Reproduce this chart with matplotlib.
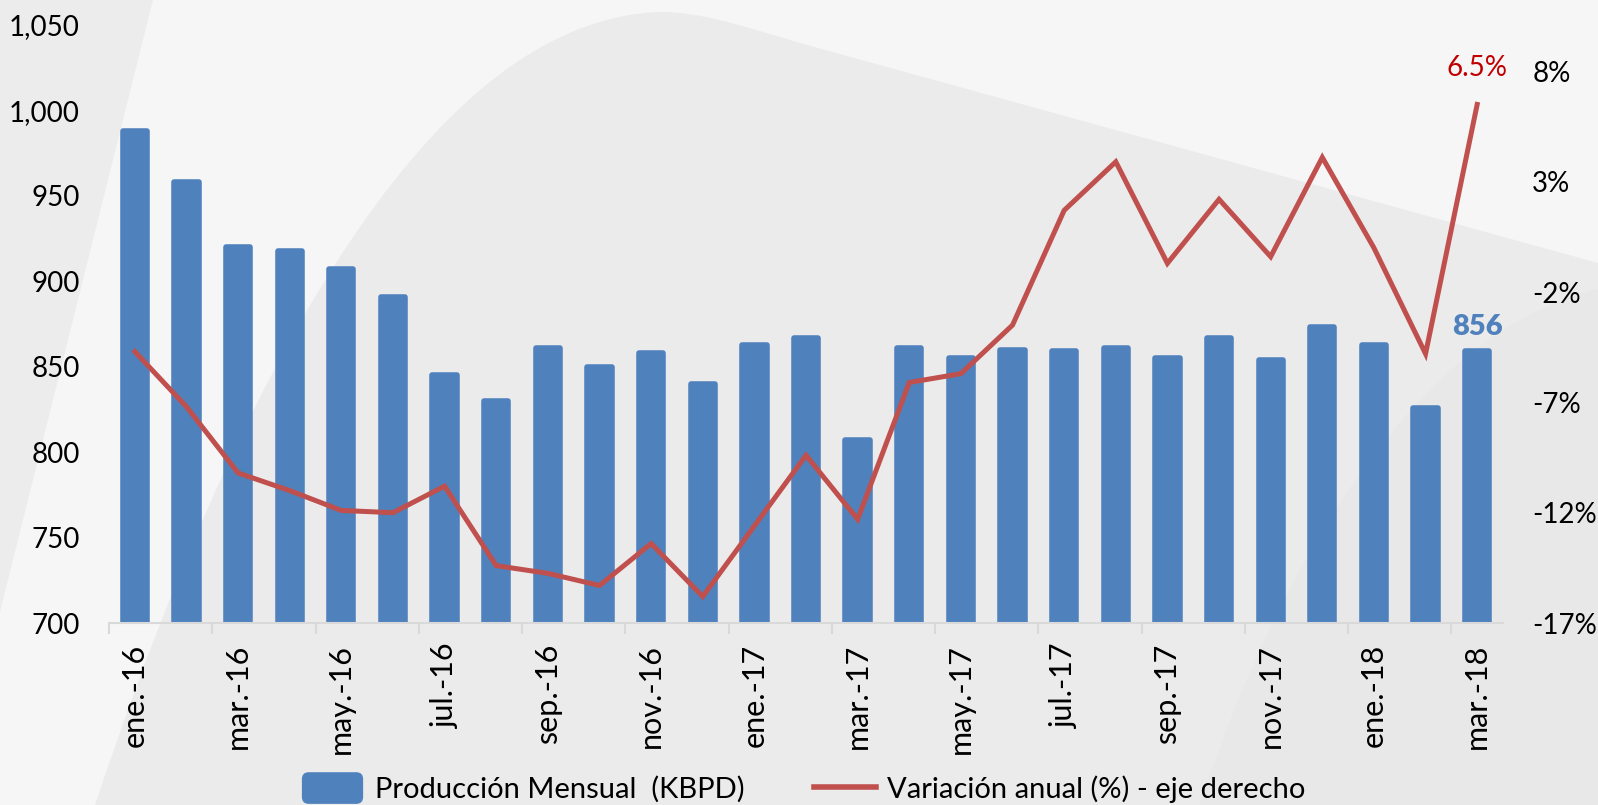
import matplotlib
matplotlib.use("Agg")
import matplotlib.pyplot as plt
from matplotlib.patches import Polygon, PathPatch, FancyBboxPatch, Patch
from matplotlib.path import Path
from matplotlib.lines import Line2D
from matplotlib.legend_handler import HandlerPatch

plt.rcParams["font.family"] = ["Lato", "DejaVu Sans"]

# ---- data ----
months = ["ene.", "feb.", "mar.", "abr.", "may.", "jun.", "jul.", "ago.",
          "sep.", "oct.", "nov.", "dic."]
labels = [f"{months[i % 12]}-{16 + i // 12}" for i in range(27)]
prod = [988, 958, 920, 918, 907, 891, 845, 830, 861, 850, 858, 840, 863, 867,
        807, 861, 855, 860, 859, 861, 855, 867, 854, 873, 863, 826, 859]
var = [-4.7, -7.2, -10.2, -11.0, -11.9, -12.0, -10.8, -14.4, -14.75, -15.3,
       -13.4, -15.8, -12.6, -9.4, -12.3, -6.1, -5.7, -3.5, 1.7, 3.9, -0.7,
       2.2, -0.4, 4.1, 0.0, -4.8, 6.5]
last_prod_label = "856"
left_ticks = [700, 750, 800, 850, 900, 950, 1000, 1050]
right_ticks = [-17, -12, -7, -2, 3, 8]

BLUE = "#4f81bd"
RED = "#c0504d"
W, H = 1598, 805


class RoundPatch(HandlerPatch):
    def create_artists(self, legend, orig, xd, yd, width, height, fontsize, trans):
        p = FancyBboxPatch((-xd, -yd - 2), width, height + 4,
                           boxstyle="round,pad=0,rounding_size=5",
                           fc=orig.get_facecolor(), ec="none", transform=trans)
        return [p]


fig = plt.figure(figsize=(W / 100, H / 100), dpi=100, facecolor="#f6f6f6")

# decorative background shapes (pixel coords)
bg = fig.add_axes([0, 0, 1, 1], zorder=-5)
bg.set_xlim(0, W); bg.set_ylim(H, 0); bg.axis("off")
bg.add_patch(Polygon([(0, 0), (153, 0), (0, 612)], closed=True, fc="#ececec", ec="none"))
M, C4, L, CL = Path.MOVETO, Path.CURVE4, Path.LINETO, Path.CLOSEPOLY
big = Path([(95, 805), (230, 400), (420, 20), (660, 12),
            (700, 12), (740, 25), (800, 43),
            (1598, 263), (1598, 805), (95, 805)],
           [M, C4, C4, C4, C4, C4, C4, L, L, CL])
bg.add_patch(PathPatch(big, fc="#ebebeb", ec="none"))
corner = Path([(1200, 805), (1280, 560), (1420, 330), (1598, 289),
               (1598, 805), (1200, 805)],
              [M, C4, C4, C4, L, CL])
bg.add_patch(PathPatch(corner, fc="#e8e8e8", ec="none"))

ax = fig.add_axes([109 / W, 1 - 623 / H, 1394 / W, 598 / H])
ax.patch.set_visible(False)
x = list(range(len(prod)))
ax.bar(x, prod, width=0.47, color=BLUE, edgecolor=BLUE, linewidth=4,
       joinstyle="round", zorder=2)
ax.set_xlim(-0.5, len(prod) - 0.5)
ax.set_ylim(700, 1050)
ax.set_yticks(left_ticks)
ax.set_yticklabels([f"{v:,}" for v in left_ticks])
ax.tick_params(axis="y", length=0, pad=21, labelsize=20)
ax.set_xticks(x[::2])
ax.set_xticklabels(labels[::2], rotation=90, fontsize=22)
ax.set_xticks([i - 0.5 for i in range(0, len(prod) + 1, 2)], minor=True)
ax.tick_params(axis="x", which="major", length=0, pad=15)
ax.tick_params(axis="x", which="minor", length=8, width=1.5, color="#d9d9d9")
for s in ("top", "left", "right"):
    ax.spines[s].set_visible(False)
ax.spines["bottom"].set_color("#d9d9d9")
ax.spines["bottom"].set_linewidth(1.5)
ax.annotate(last_prod_label, (x[-1], prod[-1]), xytext=(0, 8), textcoords="offset points",
            ha="center", va="bottom", fontsize=21, fontweight="heavy", color=BLUE)

ax2 = ax.twinx()
ax2.patch.set_visible(False)
ax2.plot(x, var, color=RED, lw=3.6, solid_joinstyle="miter", zorder=3)
ax2.set_ylim(-17, 10.1)
ax2.set_yticks(right_ticks)
ax2.set_yticklabels([f"{v}%" for v in right_ticks])
ax2.tick_params(axis="y", length=0, pad=21, labelsize=20)
for s in ("top", "left", "right", "bottom"):
    ax2.spines[s].set_visible(False)
ax2.annotate(f"{var[-1]:.1f}%", (x[-1], var[-1]), xytext=(0, 17), textcoords="offset points",
             ha="center", va="bottom", fontsize=20, color="#c00000")

handles = [Patch(facecolor=BLUE, edgecolor=BLUE, label="Producción Mensual  (KBPD)"),
           Line2D([], [], color=RED, lw=4, label="Variación anual (%) - eje derecho")]
fig.legend(handles=handles, loc="center", bbox_to_anchor=(0.503, 1 - 789 / H), ncol=2,
           frameon=False, fontsize=21, handlelength=2.1, handleheight=1.0,
           handletextpad=0.4, columnspacing=2.4,
           handler_map={Patch: RoundPatch()})

fig.savefig("out.png", dpi=100, facecolor=fig.get_facecolor())
